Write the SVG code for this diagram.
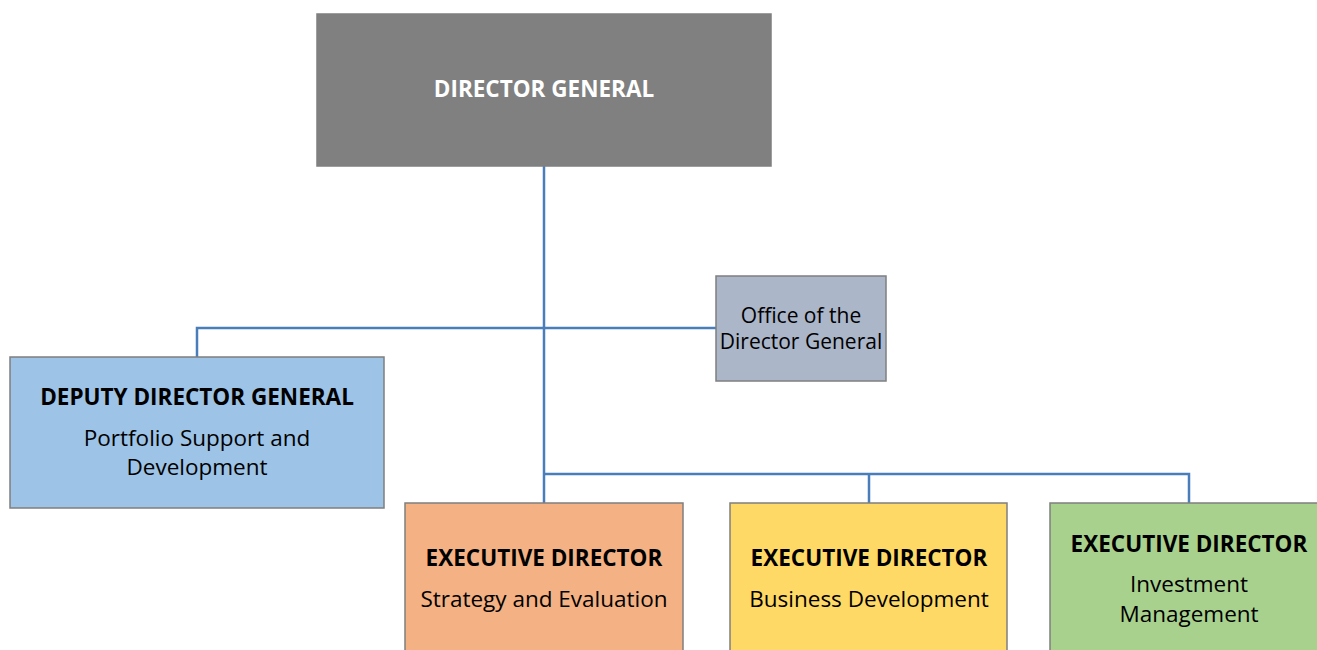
<svg xmlns="http://www.w3.org/2000/svg" width="1317" height="650" viewBox="0 0 1317 650">
<style>
.box{stroke:#7f7f7f;stroke-width:1.5}
.t{font-family:"Open Sans","Noto Sans",sans-serif;text-anchor:middle;fill:#000}
.b{font-weight:bold;font-size:22.5px}
.r{font-size:22.5px}
.o{font-size:21px}
.conn{fill:none;stroke:#4a7ebb;stroke-width:2.5}
</style>
<rect width="1317" height="650" fill="#fff"/>
<g id="connectors">
<path class="conn" d="M544,166 V503"/>
<path class="conn" d="M197,357 V328 H716"/>
<path class="conn" d="M544,474 H1189 V503 M869,474 V503"/>
</g>
<g id="dg">
<rect class="box" x="317" y="14" width="454" height="152" fill="#808080" stroke="#666"/>
<text class="t b" x="544" y="97" style="fill:#fff">DIRECTOR GENERAL</text>
</g>
<g id="office">
<rect class="box" x="716" y="276" width="170" height="105" fill="#abb6c9"/>
<text class="t o" x="801" y="323">Office of the</text>
<text class="t o" x="801" y="349">Director General</text>
</g>
<g id="ddg">
<rect class="box" x="10" y="357" width="374" height="151" fill="#9dc3e6"/>
<text class="t b" x="197" y="405">DEPUTY DIRECTOR GENERAL</text>
<text class="t r" x="197" y="446">Portfolio Support and</text>
<text class="t r" x="197" y="475">Development</text>
</g>
<g id="ed-strategy">
<rect class="box" x="405" y="503" width="278" height="160" fill="#f4b183"/>
<text class="t b" x="544" y="566">EXECUTIVE DIRECTOR</text>
<text class="t r" x="544" y="607">Strategy and Evaluation</text>
</g>
<g id="ed-business">
<rect class="box" x="730" y="503" width="277" height="160" fill="#ffd966"/>
<text class="t b" x="869" y="566">EXECUTIVE DIRECTOR</text>
<text class="t r" x="869" y="607">Business Development</text>
</g>
<g id="ed-investment">
<rect class="box" x="1050" y="503" width="280" height="160" fill="#a9d18e"/>
<text class="t b" x="1189" y="552">EXECUTIVE DIRECTOR</text>
<text class="t r" x="1189" y="592">Investment</text>
<text class="t r" x="1189" y="622">Management</text>
</g>
</svg>
